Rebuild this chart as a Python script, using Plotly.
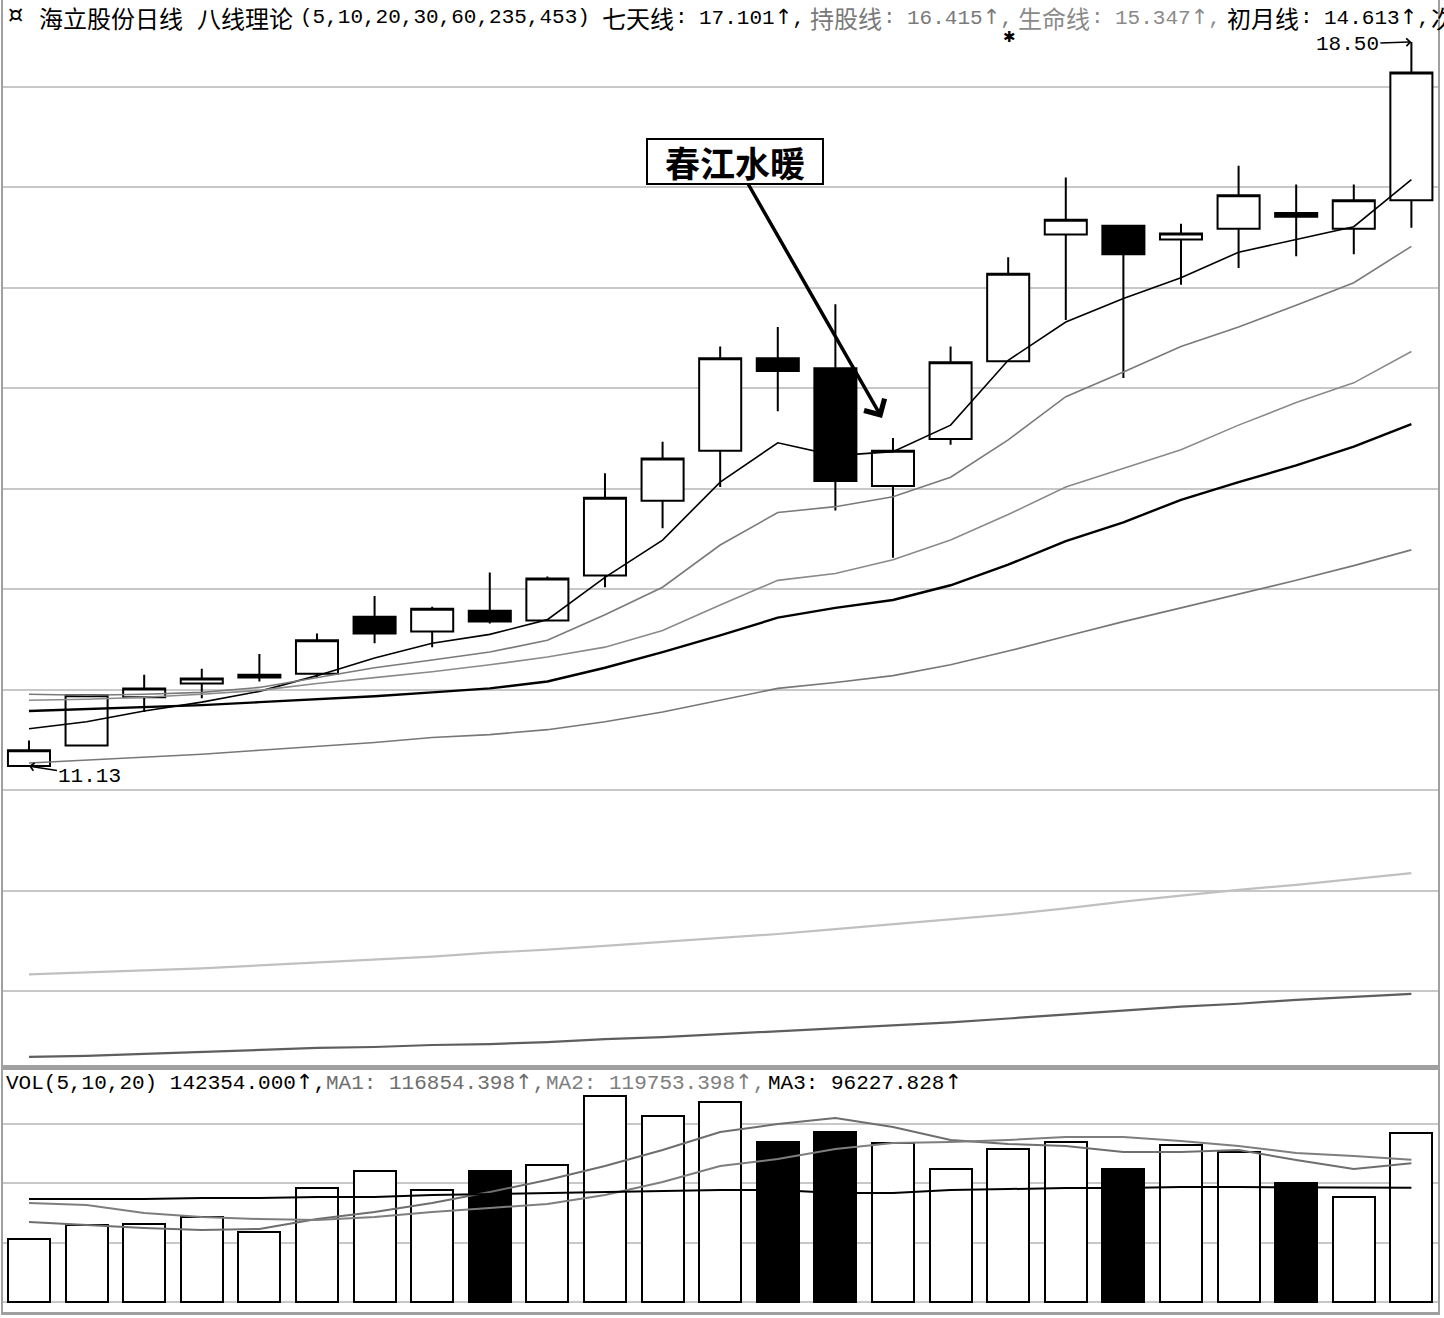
import plotly.graph_objects as go

# ---------------- data ----------------
idx = list(range(25))
opens  = [11.13, 11.34, 11.83, 11.97, 12.06, 12.07, 12.65, 12.50, 12.71, 12.61, 13.07, 13.83, 14.34,
          15.28, 15.18, 13.98, 14.46, 15.25, 16.54, 16.63, 16.49, 16.60, 16.76, 16.60, 16.89]
highs  = [11.39, 11.85, 12.06, 12.12, 12.27, 12.48, 12.86, 12.75, 13.10, 13.06, 14.11, 14.43, 15.40,
          15.60, 15.83, 14.47, 15.40, 16.31, 17.12, 16.63, 16.65, 17.24, 17.05, 17.05, 18.50]
lows   = [11.13, 11.34, 11.68, 11.82, 11.99, 12.03, 12.38, 12.34, 12.58, 12.60, 12.95, 13.55, 13.97,
          14.74, 13.73, 13.25, 14.40, 15.25, 15.67, 15.08, 16.03, 16.20, 16.32, 16.34, 16.61]
closes = [11.29, 11.85, 11.92, 12.02, 12.03, 12.41, 12.48, 12.73, 12.60, 13.04, 13.86, 14.26, 15.28,
          15.15, 14.03, 14.34, 15.24, 16.14, 16.69, 16.34, 16.55, 16.94, 16.72, 16.89, 18.19]

ma5   = [11.51, 11.58, 11.69, 11.78, 11.89, 12.05, 12.23, 12.38, 12.47, 12.62, 13.05, 13.43, 14.02,
         14.42, 14.29, 14.33, 14.60, 15.26, 15.65, 15.89, 16.10, 16.36, 16.49, 16.62, 17.10]
ma10  = [11.86, 11.85, 11.86, 11.88, 11.93, 12.03, 12.13, 12.21, 12.29, 12.41, 12.67, 12.95, 13.38,
         13.71, 13.77, 13.87, 14.07, 14.45, 14.89, 15.14, 15.40, 15.60, 15.82, 16.05, 16.42]
ma20  = [11.80, 11.81, 11.83, 11.86, 11.90, 11.97, 12.03, 12.09, 12.16, 12.24, 12.34, 12.51, 12.77,
         13.02, 13.09, 13.23, 13.43, 13.69, 13.97, 14.16, 14.35, 14.60, 14.83, 15.03, 15.35]
ma30  = [11.69, 11.71, 11.73, 11.75, 11.78, 11.81, 11.84, 11.88, 11.92, 11.99, 12.13, 12.29, 12.46,
         12.64, 12.74, 12.82, 12.97, 13.18, 13.42, 13.61, 13.84, 14.02, 14.19, 14.38, 14.61]
ma60  = [11.16, 11.19, 11.22, 11.25, 11.29, 11.33, 11.37, 11.42, 11.45, 11.50, 11.58, 11.68, 11.80,
         11.92, 11.98, 12.05, 12.16, 12.30, 12.45, 12.60, 12.74, 12.88, 13.02, 13.17, 13.33]
ma235 = [9.01, 9.03, 9.05, 9.07, 9.10, 9.13, 9.16, 9.19, 9.23, 9.26, 9.30, 9.34, 9.38,
         9.42, 9.47, 9.52, 9.57, 9.62, 9.68, 9.75, 9.81, 9.87, 9.92, 9.98, 10.04]
ma453 = [8.17, 8.18, 8.20, 8.22, 8.24, 8.26, 8.27, 8.29, 8.30, 8.32, 8.35, 8.37, 8.40,
         8.43, 8.46, 8.49, 8.52, 8.56, 8.60, 8.64, 8.68, 8.71, 8.75, 8.78, 8.81]

volume = [53100, 64900, 65700, 71600, 59000, 96000, 110300, 94300, 110300, 115400, 173500, 156700, 168500,
          134800, 143200, 133900, 112000, 128900, 134800, 112000, 132200, 126300, 100200, 88400, 142354]
vol_up = [1, 1, 1, 1, 1, 1, 1, 1, 0, 1, 1, 1, 1, 0, 0, 1, 1, 1, 1, 0, 1, 1, 0, 1, 1]
vol_ma1 = [67380, 64860, 62330, 60650, 61490, 69910, 75810, 83390, 92650, 102760, 114550, 128030, 143190,
           149930, 154980, 147400, 136450, 133080, 131400, 126350, 126350, 128030, 119600, 112030, 116854]
vol_ma2 = [83390, 81700, 74960, 71600, 69910, 69070, 71600, 75810, 79180, 82550, 90130, 101080, 114550,
           120450, 128870, 133930, 134770, 136450, 138980, 138980, 135610, 131400, 125500, 122980, 119753]
vol_ma3 = [86760, 86760, 86760, 87600, 87600, 88440, 88440, 90130, 90970, 91810, 92650, 93500, 94340,
           94340, 91810, 91810, 94340, 95180, 96020, 96020, 96860, 96860, 96860, 96860, 96228]

W, H = 1444, 1318
MONO = "Liberation Mono, DejaVu Sans Mono, Noto Sans CJK SC"
CJK = "Noto Sans CJK SC"
GRID = "#c8c8c8"
FRAME = "#a0a0a0"
UP = '<span style="font-family:DejaVu Sans">↑</span>'

fig = go.Figure()

fig.add_trace(go.Candlestick(
    x=idx, open=opens, high=highs, low=lows, close=closes,
    increasing=dict(line=dict(color="black", width=2), fillcolor="white"),
    decreasing=dict(line=dict(color="black", width=2), fillcolor="black"),
    whiskerwidth=0, showlegend=False, hoverinfo="skip", xaxis="x", yaxis="y"))

ma_styles = [
    (ma5, "#000000", 1.6), (ma10, "#7a7a7a", 1.6), (ma20, "#8a8a8a", 1.6),
    (ma30, "#000000", 2.4), (ma60, "#777777", 1.6), (ma235, "#c0c0c0", 2.2), (ma453, "#5e5e5e", 2.2)]
for vals, col, wd in ma_styles:
    fig.add_trace(go.Scatter(x=idx, y=vals, mode="lines", line=dict(color=col, width=wd),
                             showlegend=False, hoverinfo="skip", xaxis="x", yaxis="y"))

fig.add_trace(go.Bar(
    x=idx, y=volume, width=0.73,
    marker=dict(color=["white" if u else "black" for u in vol_up], line=dict(color="black", width=2)),
    showlegend=False, hoverinfo="skip", xaxis="x2", yaxis="y2"))
for vals, col in [(vol_ma1, "#6e6e6e"), (vol_ma2, "#7e7e7e"), (vol_ma3, "#000000")]:
    fig.add_trace(go.Scatter(x=idx, y=vals, mode="lines", line=dict(color=col, width=2),
                             showlegend=False, hoverinfo="skip", xaxis="x2", yaxis="y2"))

# ---------------- layout ----------------
sep = 1 - 1068 / H
xdom = [3 / W, 1438 / W]
xr = [-0.451, 24.462]
fig.update_layout(
    width=W, height=H, margin=dict(l=0, r=0, t=0, b=0),
    paper_bgcolor="white", plot_bgcolor="white",
    boxgap=0.27, boxgroupgap=0, bargap=0,
    xaxis=dict(domain=xdom, range=xr, showgrid=False, showticklabels=False, zeroline=False,
               rangeslider=dict(visible=False), anchor="y", showline=True, linecolor=FRAME, linewidth=2),
    yaxis=dict(domain=[sep, 1], range=[8.056, 18.9275], tick0=11.904, dtick=1.023,
               showgrid=True, gridcolor=GRID, gridwidth=2, showticklabels=False, zeroline=False,
               showline=True, linecolor=FRAME, linewidth=2, mirror=True),
    xaxis2=dict(domain=xdom, range=xr, matches="x", showgrid=False, showticklabels=False, zeroline=False,
                anchor="y2", showline=True, linecolor=FRAME, linewidth=3, mirror=True),
    yaxis2=dict(domain=[1 - 1312 / H, sep], range=[-8400, 197100], tick0=0, dtick=50000,
                showgrid=True, gridcolor=GRID, gridwidth=2, showticklabels=False, zeroline=False,
                showline=True, linecolor=FRAME, linewidth=2, mirror=True),
)

def txt(x_px, y_px, s, color="black", size=21, anchor="left", family=MONO):
    fig.add_annotation(x=x_px / W, y=1 - y_px / H, xref="paper", yref="paper", text=s,
                       showarrow=False, xanchor=anchor, yanchor="middle",
                       font=dict(family=family, size=size, color=color))

# header line
txt(6, 15, "¤", size=24, family="DejaVu Sans")
txt(37, 18, "海立股份日线", size=24, family=CJK)
txt(195, 18, "八线理论", size=24, family=CJK)
txt(298, 18, "(5,10,20,30,60,235,453)")
hdr = [(600, "七天线", "17.101", "black"),
       (808, "持股线", "16.415", "#7a7a7a"),
       (1016, "生命线", "15.347", "#8a8a8a"),
       (1225, "初月线", "14.613", "black")]
for x0, lab, val, col in hdr:
    txt(x0, 18, lab, color=col, size=24, family=CJK)
    txt(x0 + 73, 18, ":", color=col)
    txt(x0 + 97, 18, val + UP + ",", color=col)
txt(1429, 18, "次", size=24, family=CJK)
txt(1009, 37, "✱", size=15, anchor="center", family="DejaVu Sans")

# volume header
txt(4, 1082, "VOL(5,10,20) 142354.000" + UP + ",")
txt(324, 1082, "MA1: 116854.398" + UP + ",", color="#6e6e6e")
txt(544, 1082, "MA2: 119753.398" + UP + ",", color="#7e7e7e")
txt(766, 1082, "MA3: 96227.828" + UP)

# high / low markers
fig.add_annotation(x=24, y=18.50, xref="x", yref="y", text="18.50", showarrow=True,
                   ax=-64, ay=2, arrowhead=4, arrowsize=1, arrowwidth=1.5, arrowcolor="black",
                   font=dict(family=MONO, size=21, color="black"))
fig.add_annotation(x=0, y=11.13, xref="x", yref="y", text="11.13", showarrow=True,
                   ax=61, ay=10, arrowhead=4, arrowsize=1, arrowwidth=1.5, arrowcolor="black",
                   font=dict(family=MONO, size=21, color="black"))

# callout
fig.add_annotation(x=882 / W, y=1 - 418 / H, xref="paper", yref="paper",
                   text="<b>春江水暖</b>", showarrow=True, ax=-147, ay=-257,
                   width=172, height=41, align="center", valign="middle",
                   arrowhead=4, arrowsize=1.3, arrowwidth=3.5, arrowcolor="black",
                   bgcolor="white", bordercolor="black", borderwidth=2, borderpad=1,
                   font=dict(family=CJK, size=35, color="black"))

fig.write_html("out.html", config={"displayModeBar": False},
               post_script="document.body.style.margin='0px';document.body.style.padding='0px';")
